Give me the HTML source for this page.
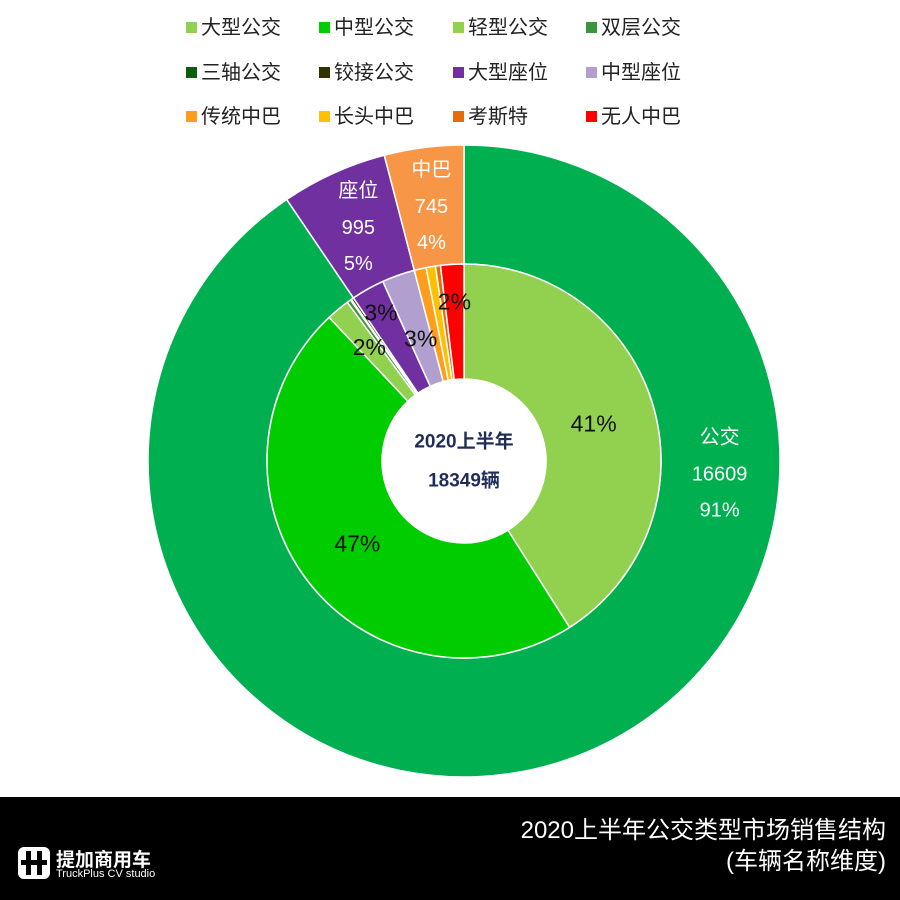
<!DOCTYPE html>
<html><head><meta charset="utf-8"><style>
body{margin:0;width:900px;height:900px;background:#fff;font-family:"Liberation Sans","Noto Sans CJK SC",sans-serif;overflow:hidden;position:relative}
.leg{position:absolute;font-size:20px;color:#222;line-height:24px;white-space:nowrap}
.leg i{display:inline-block;width:11px;height:11px;margin-right:4px;vertical-align:1px}
#footer{position:absolute;left:0;top:797px;width:900px;height:103px;background:#000}
</style></head><body>
<div id="legend"></div>
<svg id="chart" width="900" height="797" style="position:absolute;left:0;top:0"></svg>
<div id="footer">
 <div style="position:absolute;right:14px;top:18px;color:#fff;font-size:24px;line-height:31px;text-align:right">2020上半年公交类型市场销售结构<br>(车辆名称维度)</div>
 <div style="position:absolute;left:18px;top:50px;width:32px;height:32px;background:#fff;border-radius:6px"><div style="position:absolute;left:8px;top:4px;width:5px;height:24px;background:#000"></div><div style="position:absolute;left:19px;top:4px;width:5px;height:24px;background:#000"></div><div style="position:absolute;left:3px;top:13px;width:26px;height:5px;background:#000"></div></div>
 <div style="position:absolute;left:56px;top:48px;color:#fff;font-size:19px;font-weight:bold">提加商用车</div>
 <div style="position:absolute;left:56px;top:71px;color:#fff;font-size:11px">TruckPlus CV studio</div>
</div>
<script>
const innerNames=["大型公交","中型公交","轻型公交","双层公交","三轴公交","铰接公交","大型座位","中型座位","传统中巴","长头中巴","考斯特","无人中巴"];
const innerValues=[7523,8624,350,60,15,37,500,495,180,140,75,350];
const innerLabels=["41%","47%","2%","","","","3%","3%","","","","2%"];
const outerNames=["公交","座位","中巴"];
const outerValues=[16609,995,745];
const outerPcts=["91%","5%","4%"];
const innerColors=["#92d050","#00cc00","#92d050","#3a963a","#0b5e0b","#333300","#7030a0","#b1a0cf","#ff9d1c","#ffc000","#e46c0a","#ff0000"];
const outerColors=["#00b050","#7030a0","#f79646"];
const innerLabelR=[135,135,148,0,0,0,170,130,0,0,0,160];
const svg=document.getElementById('chart');const NS="http://www.w3.org/2000/svg";
const cx=464,cy=461,R0=316,R1=197,R2=82;
function pt(a,r){return [cx+r*Math.sin(a),cy-r*Math.cos(a)];}
function arc(a0,a1,ro,ri){const l=(a1-a0)>Math.PI?1:0;const p=pt(a0,ro),q=pt(a1,ro),s=pt(a1,ri),t=pt(a0,ri);
return `M${p[0]},${p[1]}A${ro},${ro} 0 ${l} 1 ${q[0]},${q[1]}L${s[0]},${s[1]}A${ri},${ri} 0 ${l} 0 ${t[0]},${t[1]}Z`;}
function txt(x,y,s,fill,size,name,weight){const t=document.createElementNS(NS,'text');t.setAttribute('x',x);t.setAttribute('y',y);t.setAttribute('fill',fill);t.setAttribute('font-size',size);t.setAttribute('text-anchor','middle');t.setAttribute('dominant-baseline','central');if(weight)t.setAttribute('font-weight',weight);t.textContent=s;


svg.appendChild(t);}
function slices(vals,cols,ro,ri,prefix){const tot=vals.reduce((a,b)=>a+b,0);let a=0;const mids=[];
vals.forEach((v,i)=>{const a1=a+v/tot*2*Math.PI;const p=document.createElementNS(NS,'path');p.setAttribute('d',arc(a,a1,ro,ri));p.setAttribute('fill',cols[i]);p.setAttribute('stroke','#fff');p.setAttribute('stroke-width','1.5');


svg.appendChild(p);mids.push((a+a1)/2);a=a1;});return mids;}
const om=slices(outerValues,outerColors,R0,R1,'outer');
const im=slices(innerValues,innerColors,R1,R2,'inner');
const c=document.createElementNS(NS,'circle');c.setAttribute('cx',cx);c.setAttribute('cy',cy);c.setAttribute('r',R2);c.setAttribute('fill','#fff');


svg.appendChild(c);
txt(cx,cy-19,'2020上半年','#1f2d5a',19,'center-title','bold');
txt(cx,cy+20,'18349辆','#1f2d5a',19,'center-total','bold');
innerLabels.forEach((s,i)=>{if(!s)return;const p=pt(im[i],innerLabelR[i]);txt(p[0],p[1],s,'#111',23,'inner-label-'+i);});
outerNames.forEach((n,i)=>{const a=i===0?Math.PI*0.517:om[i];const p=pt(a,256);
txt(p[0],p[1]-37,n,'#fff',20,'outer-name-'+i);txt(p[0],p[1],String(outerValues[i]),'#fff',20,'outer-value-'+i);txt(p[0],p[1]+36,outerPcts[i],'#fff',20,'outer-pct-'+i);});
const leg=document.getElementById('legend');const colsX=[186,319,453,586],rowsY=[16,61,105];
innerNames.forEach((n,i)=>{const d=document.createElement('div');d.className='leg';d.style.left=colsX[i%4]+'px';d.style.top=rowsY[Math.floor(i/4)]+'px';d.innerHTML='<i style="background:'+innerColors[i]+'"></i>'+n;


leg.appendChild(d);});
</script>
</body></html>
